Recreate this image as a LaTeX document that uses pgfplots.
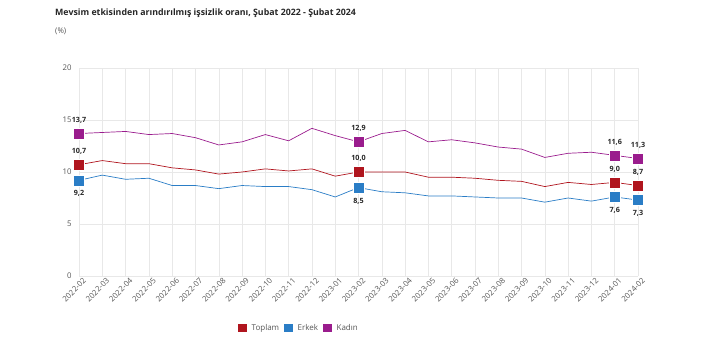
\documentclass[border=0pt]{standalone}
\usepackage{fontspec}
\setmainfont{Open Sans}
\usepackage{pgfplots}
\pgfplotsset{compat=1.18}
\definecolor{cT}{HTML}{B0151E}
\definecolor{cE}{HTML}{2A7DC6}
\definecolor{cK}{HTML}{9A1C8D}
\definecolor{gridc}{HTML}{E8E8E8}
\definecolor{txt}{HTML}{555555}
\begin{document}
\begin{tikzpicture}
\useasboundingbox (-79pt,-75pt) rectangle (623pt,276pt);
\node[anchor=west, inner sep=0pt, font=\bfseries\fontsize{8.8}{10}\selectfont, text=black!85] at (-24pt,263pt) {Mevsim etkisinden arındırılmış işsizlik oranı, Şubat 2022 - Şubat 2024};
\node[anchor=west, inner sep=0pt, font=\fontsize{7.8}{9}\selectfont, text=txt] at (-24pt,245pt) {(\%)};
\begin{axis}[
  scale only axis, width=559pt, height=208pt,
  xmin=0, xmax=24, ymin=0, ymax=20,
  ytick={0,5,10,15,20},
  xtick={0,...,24},
  xticklabels={2022-02,2022-03,2022-04,2022-05,2022-06,2022-07,2022-08,2022-09,2022-10,2022-11,2022-12,2023-01,2023-02,2023-03,2023-04,2023-05,2023-06,2023-07,2023-08,2023-09,2023-10,2023-11,2023-12,2024-01,2024-02},
  xticklabel style={rotate=45, anchor=north east, inner sep=0.5pt, font=\fontsize{7.8}{9}\selectfont, text=txt, yshift=-3pt, xshift=2pt},
  yticklabel style={font=\fontsize{7.8}{9}\selectfont, text=txt, xshift=-4pt},
  /pgf/number format/assume math mode=true,
  grid=major, major grid style={gridc, line width=0.5pt},
  axis line style={draw=none}, tick style={draw=none},
  clip=false,
  legend image code/.code={\draw[#1, draw=none, fill] (0pt,-4pt) rectangle (8.5pt,4.5pt);},
  legend style={at={(0.279,-0.25)}, anchor=west, draw=none, fill=none, font=\fontsize{8}{9}\selectfont, text=txt, column sep=3pt},
  legend columns=3,
]
\addplot[cT, line width=0.7pt, mark=none] coordinates {(0,10.7)(1,11.1)(2,10.8)(3,10.8)(4,10.4)(5,10.2)(6,9.8)(7,10.0)(8,10.3)(9,10.1)(10,10.3)(11,9.6)(12,10.0)(13,10.0)(14,10.0)(15,9.5)(16,9.5)(17,9.4)(18,9.2)(19,9.1)(20,8.6)(21,9.0)(22,8.8)(23,9.0)(24,8.7)};
\addlegendentry{Toplam}
\addplot[cE, line width=0.7pt, mark=none] coordinates {(0,9.2)(1,9.7)(2,9.3)(3,9.4)(4,8.7)(5,8.7)(6,8.4)(7,8.7)(8,8.6)(9,8.6)(10,8.3)(11,7.6)(12,8.5)(13,8.1)(14,8.0)(15,7.7)(16,7.7)(17,7.6)(18,7.5)(19,7.5)(20,7.1)(21,7.5)(22,7.2)(23,7.6)(24,7.3)};
\addlegendentry{Erkek}
\addplot[cK, line width=0.7pt, mark=none] coordinates {(0,13.7)(1,13.8)(2,13.9)(3,13.6)(4,13.7)(5,13.3)(6,12.6)(7,12.9)(8,13.6)(9,13.0)(10,14.2)(11,13.5)(12,12.9)(13,13.7)(14,14.0)(15,12.9)(16,13.1)(17,12.8)(18,12.4)(19,12.2)(20,11.4)(21,11.8)(22,11.9)(23,11.6)(24,11.3)};
\addlegendentry{Kadın}
\pgfplotsset{every node near coord/.append style={font=\bfseries\fontsize{7.2}{8}\selectfont, text=black!85, inner sep=0pt}}
\addplot[forget plot, only marks, mark=square*, mark size=5.5pt, mark options={fill=cT, draw=white, line width=0.4pt}, point meta=y,
  nodes near coords={\pgfmathprintnumber[use comma,fixed,fixed zerofill,precision=1]{\pgfplotspointmeta}},
  every node near coord/.append style={anchor=south, yshift=10pt}] coordinates {(0,10.7)(12,10.0)(23,9.0)(24,8.7)};
\addplot[forget plot, only marks, mark=square*, mark size=5.5pt, mark options={fill=cE, draw=white, line width=0.4pt}, point meta=y,
  nodes near coords={\pgfmathprintnumber[use comma,fixed,fixed zerofill,precision=1]{\pgfplotspointmeta}},
  every node near coord/.append style={anchor=north, yshift=-10pt}] coordinates {(0,9.2)(12,8.5)(23,7.6)(24,7.3)};
\addplot[forget plot, only marks, mark=square*, mark size=5.5pt, mark options={fill=cK, draw=white, line width=0.4pt}, point meta=y,
  nodes near coords={\pgfmathprintnumber[use comma,fixed,fixed zerofill,precision=1]{\pgfplotspointmeta}},
  every node near coord/.append style={anchor=south, yshift=10pt}] coordinates {(0,13.7)(12,12.9)(23,11.6)(24,11.3)};
\end{axis}
\end{tikzpicture}
\end{document}
